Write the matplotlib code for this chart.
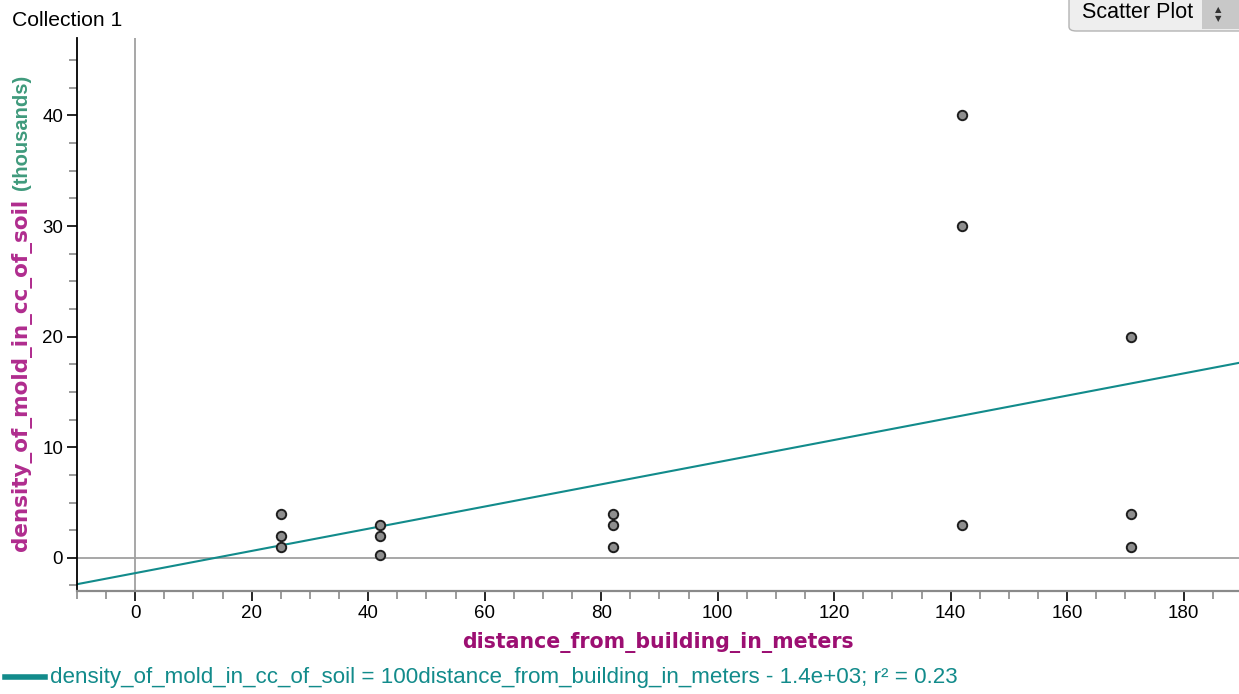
import numpy as np
import matplotlib
matplotlib.use('Agg')
from matplotlib import pyplot as plt
from matplotlib.ticker import MultipleLocator
from matplotlib.patches import FancyBboxPatch, Rectangle

plt.rcParams['font.family'] = ['Liberation Sans', 'DejaVu Sans']

# distance from building (m) and mold density (thousands per cc)
distance = [25, 25, 25, 42, 42, 42, 82, 82, 82, 142, 142, 142, 171, 171, 171]
density = [4, 2, 1, 3, 2, 0.3, 4, 3, 1, 40, 30, 3, 20, 4, 1]

x_label = "distance_from_building_in_meters"
y_label_main = "density_of_mold_in_cc_of_soil"
y_label_unit = "(thousands)"

teal = '#128b8b'
magenta = '#9c0f72'

x = np.array(distance, dtype=float)
y = np.array(density, dtype=float)
slope, intercept = np.polyfit(x, y, 1)
r2 = np.corrcoef(x, y)[0, 1] ** 2

fig = plt.figure(figsize=(12.39, 6.94), dpi=100)
ax = fig.add_axes([77 / 1239, 1 - 591 / 694, 1 - 77 / 1239, (591 - 38) / 694])
xmin, xmax = -10, 189.5
ax.set_xlim(xmin, xmax)
ax.set_ylim(-3, 47)

# zero reference lines
ax.axvline(0, color='#a0a0a0', lw=1.3, zorder=1)
ax.axhline(0, color='#a0a0a0', lw=1.3, zorder=1)

# least squares line
xs = np.array([xmin, xmax])
ax.plot(xs, slope * xs + intercept, color=teal, lw=1.5, zorder=2)

ax.scatter(x, y, s=46, facecolor='#8e8e8e', edgecolor='#1e1e1e', linewidth=1.4, zorder=3)

# axes look
for side in ['top', 'right']:
    ax.spines[side].set_visible(False)
ax.spines['left'].set_color('black')
ax.spines['left'].set_linewidth(1.3)
ax.spines['bottom'].set_color('#8a8a8a')
ax.spines['bottom'].set_linewidth(1.6)

ax.xaxis.set_major_locator(MultipleLocator(20))
ax.xaxis.set_minor_locator(MultipleLocator(5))
ax.yaxis.set_major_locator(MultipleLocator(10))
ax.yaxis.set_minor_locator(MultipleLocator(2.5))
ax.tick_params(which='major', length=7, width=1.2, color='black', labelsize=13.5, pad=3)
ax.tick_params(which='minor', length=6, width=1.2, color='#8a8a8a')

ax.set_xlabel(x_label, fontsize=14.8, fontweight='bold', color=magenta, labelpad=7,
              family='DejaVu Sans')

# two-coloured y label
fig.text(22 / 1239, 1 - 551 / 694, y_label_main, rotation=90, ha='center', va='bottom',
         fontsize=15.5, fontweight='bold', color='#b02c8e', family='DejaVu Sans')
fig.text(22 / 1239, 1 - 75 / 694, y_label_unit, rotation=90, ha='center', va='top',
         fontsize=14.5, fontweight='bold', color='#3f9a7c')

# top texts
fig.text(12 / 1239, 1 - 20 / 694, "Collection 1", fontsize=15.2, va='center', ha='left')
btn = FancyBboxPatch((1069 / 1239, 1 - 31 / 694), 190 / 1239, 45 / 694,
                     boxstyle='round,pad=0,rounding_size=0.006', transform=fig.transFigure,
                     facecolor='#eeeeee', edgecolor='#b4b4b4', lw=1)
fig.patches.append(btn)
fig.patches.append(Rectangle((1202 / 1239, 1 - 29 / 694), 37 / 1239, 29 / 694,
                             transform=fig.transFigure, facecolor='#c8c8c8', edgecolor='none'))
fig.text(1082 / 1239, 1 - 13 / 694, "Scatter Plot", fontsize=15.5, va='center', ha='left')
fig.text(1218 / 1239, 1 - 14 / 694, "\u25b2\n\u25bc", fontsize=6, va='center', ha='center',
         linespacing=1.0, family='DejaVu Sans', color='#333333')

# equation legend
fig.add_artist(plt.Line2D([5 / 1239, 45 / 1239], [1 - 677 / 694] * 2, color=teal, lw=4,
                          transform=fig.transFigure))
eq = (f"{y_label_main} = {slope * 1000:.0f}{x_label} - {abs(intercept) * 1000:.2g}; "
      f"r\u00b2 = {r2:.2f}")
fig.text(50 / 1239, 1 - 677 / 694, eq, fontsize=16.1, color=teal, va='center', ha='left')

fig.savefig('out.png', dpi=100)
